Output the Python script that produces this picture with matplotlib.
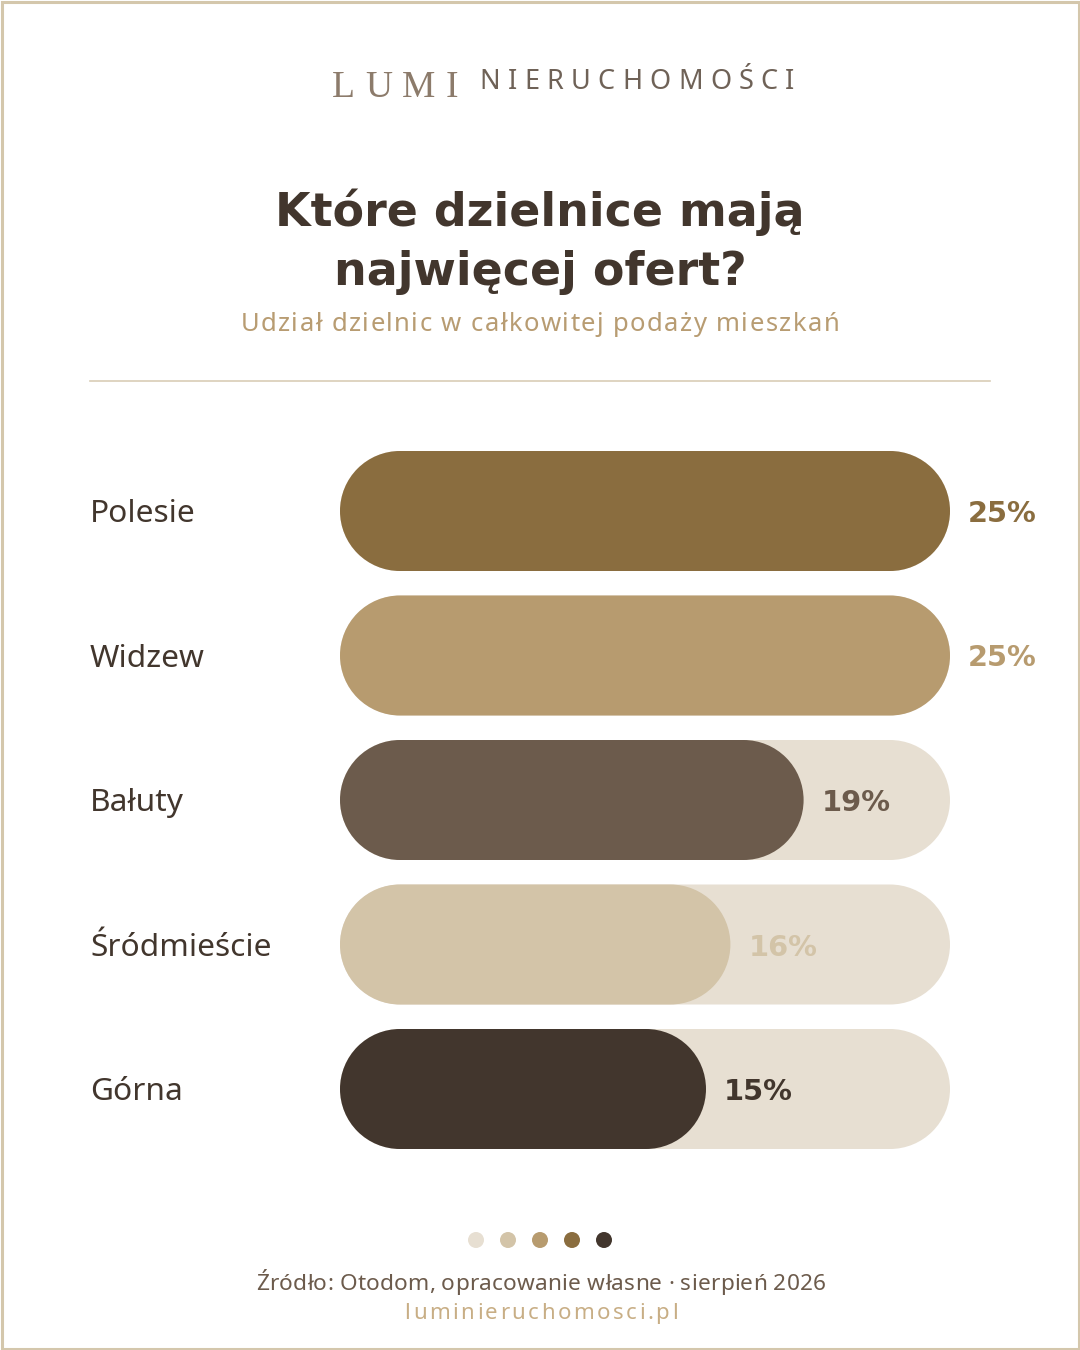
import matplotlib.pyplot as plt
from matplotlib.patches import Rectangle, Circle, PathPatch
from matplotlib.path import Path
from matplotlib.font_manager import FontProperties, findfont
from matplotlib.ft2font import FT2Font
import numpy as np

# dane
districts = ["Polesie", "Widzew", "Bałuty", "Śródmieście", "Górna"]
shares = [25, 25, 19, 16, 15]
bar_colors = ["#8A6D3F", "#B79B6F", "#6C5B4C", "#D3C4A8", "#42362D"]
track_color = "#E7DFD2"
max_share = 25

title_lines = ["Które dzielnice mają", "najwięcej ofert?"]
subtitle = "Udział dzielnic w całkowitej podaży mieszkań"
source = "Źródło: Otodom, opracowanie własne · sierpień 2026"
url = "luminieruchomosci.pl"

dark = "#42362D"
sans = ["Noto Sans", "DejaVu Sans"]
DPI = 100

fig = plt.figure(figsize=(10.8, 13.5), dpi=DPI)
fig.patch.set_facecolor("white")
bg = fig.add_axes([0, 0, 1, 1])
bg.set_xlim(0, 1080)
bg.set_ylim(1350, 0)
bg.axis("off")


def spaced(x_center, y, s, gap, size, family, weight="normal", **kw):
    # tekst z rozstrzelonymi literami, szerokosci z metryk fontu
    font = FT2Font(findfont(FontProperties(family=family, weight=weight)))
    font.set_size(size, DPI)
    adv = [font.load_char(ord(ch)).linearHoriAdvance / 65536 for ch in s]
    total = sum(adv) + gap * (len(s) - 1)
    x = x_center - total / 2
    for ch, a in zip(s, adv):
        if ch != " ":
            bg.text(x, y, ch, ha="left", va="baseline", fontsize=size,
                    family=family, weight=weight, **kw)
        x += a + gap


# ramka
bg.add_patch(Rectangle((1.5, 1.5), 1077, 1347, fill=False, ec="#D4C7AC", lw=2.2))

# naglowek
spaced(395, 97, "LUMI", 10, 27, "Liberation Serif", color="#8C7B6B")
spaced(637, 89, "NIERUCHOMOŚCI", 7.3, 19.5, sans, color="#6F6257")

# tytul
bg.text(540, 226, title_lines[0], ha="center", va="baseline", fontsize=33,
        fontweight="bold", color=dark, family="DejaVu Sans")
bg.text(540, 285, title_lines[1], ha="center", va="baseline", fontsize=33,
        fontweight="bold", color=dark, family="DejaVu Sans")
spaced(540, 331, subtitle, 1.4, 18.5, sans, "light", color="#B89C72")
bg.plot([90, 990], [381, 381], color="#D9CDB6", lw=1.2)

# slupki
row = 144.5
top = 511 - row / 2
bottom = 1089 + row / 2
ax = fig.add_axes([340 / 1080, 1 - bottom / 1350, 610 / 1080, (bottom - top) / 1350])
ax.set_xlim(0, max_share)
ax.set_ylim(len(districts) - 0.5, -0.5)
ax.axis("off")

px_x = max_share / 610
px_y = 1 / row
h = 120 * px_y
rx = 60 * px_x


def pill(x1, yc, color, z):
    right = Path.arc(-90, 90)
    left = Path.arc(90, 270)
    vr = right.vertices * [rx, h / 2] + [x1 - rx, yc]
    vl = left.vertices * [rx, h / 2] + [rx, yc]
    verts = np.vstack([vr, vl, vr[:1]])
    codes = np.concatenate([right.codes, left.codes, [Path.CLOSEPOLY]])
    codes[len(right.codes)] = Path.LINETO
    ax.add_patch(PathPatch(Path(verts, codes), fc=color, ec="none", zorder=z))


for i, (name, v, c) in enumerate(zip(districts, shares, bar_colors)):
    pill(max_share, i, track_color, 1)
    pill(v, i, c, 2)
    ax.text(v + 18 * px_x, i, f"{v}%", ha="left", va="center_baseline", fontsize=20.8,
            fontweight="bold", color=c, family="DejaVu Sans", clip_on=False, zorder=3)
    ax.text((90 - 340) / 610, i, name, transform=ax.get_yaxis_transform(),
            ha="left", va="center_baseline", fontsize=22.8, family=sans, weight="medium",
            color=dark)

# stopka
dot_colors = [track_color, "#D3C4A8", "#B79B6F", "#8A6D3F", dark]
for k, c in enumerate(dot_colors):
    bg.add_patch(Circle((476 + 32 * k, 1240), 8, fc=c, ec="none"))

spaced(541, 1290, source, 0.2, 16.3, sans, "light", color="#6C5B4C")
spaced(541, 1319, url, 2.5, 16, sans, "light", color="#C8AE85")

fig.savefig("out.png", dpi=DPI)
